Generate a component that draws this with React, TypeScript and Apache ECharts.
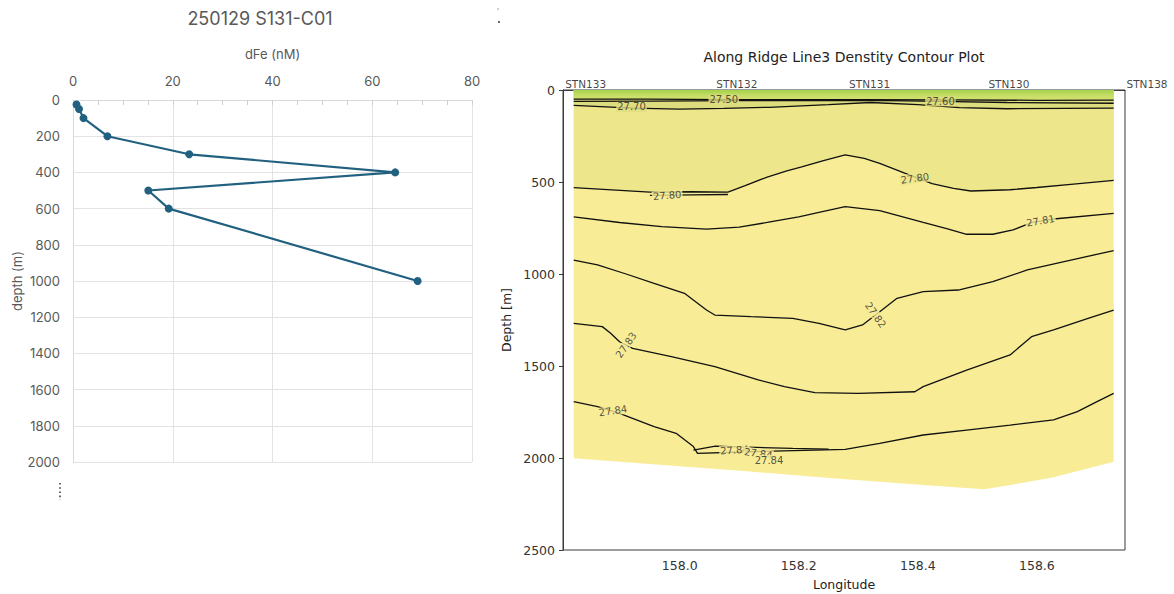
import React, { useEffect, useRef } from "react";
import * as echarts from "echarts";

// ---- Left chart data (dFe profile) ----
const dfeValues = [0.7, 1.2, 2.1, 6.9, 23.3, 64.6, 15.1, 19.2, 69.1];
const dfeDepths = [25, 50, 100, 200, 300, 400, 500, 600, 1000];

// ---- Right chart data (density contours, [longitude, depth]) ----
const lonTicks = [158.0, 158.2, 158.4, 158.6];
const stationNames = ["STN133", "STN132", "STN131", "STN130", "STN138"];
const stationLons = [157.842, 158.096, 158.319, 158.553, 158.785];

const bottomEdge = [
  [157.822, 2002], [157.972, 2038], [158.118, 2074], [158.263, 2111], [158.409, 2147],
  [158.511, 2170], [158.555, 2147], [158.628, 2105], [158.729, 2020],
];
const c2750 = [
  [157.822, 50], [157.95, 50], [158.074, 52], [158.2, 52], [158.3, 53], [158.45, 54], [158.6, 56], [158.729, 55],
];
const c2760 = [
  [157.822, 62], [157.95, 60], [158.1, 58], [158.25, 57], [158.35, 58], [158.438, 62], [158.55, 68], [158.729, 72],
];
const c2770 = [
  [157.822, 84], [157.921, 98], [158.0, 104], [158.074, 100], [158.15, 94], [158.25, 80], [158.32, 68],
  [158.4, 80], [158.47, 96], [158.55, 102], [158.729, 98],
];
const c2780 = [
  [157.822, 531], [157.9, 545], [157.95, 555], [158.02, 553], [158.081, 555], [158.11, 520], [158.147, 473],
  [158.18, 440], [158.205, 418], [158.24, 385], [158.278, 353], [158.31, 372], [158.336, 399], [158.38, 454],
  [158.424, 509], [158.46, 535], [158.489, 549], [158.555, 542], [158.6, 530], [158.657, 513], [158.729, 491],
];
const c2780b = [[157.95, 573], [158.02, 570], [158.081, 568]];
const c2781 = [
  [157.822, 689], [157.899, 720], [157.97, 742], [158.045, 756], [158.1, 745], [158.147, 720], [158.2, 690],
  [158.234, 665], [158.278, 634], [158.336, 656], [158.409, 720], [158.45, 755], [158.482, 784], [158.526, 784],
  [158.56, 760], [158.592, 720], [158.628, 701], [158.729, 670],
];
const c2782 = [
  [157.822, 924], [157.862, 951], [157.91, 1000], [157.957, 1051], [158.008, 1105], [158.045, 1196],
  [158.059, 1223], [158.12, 1232], [158.19, 1241], [158.234, 1268], [158.278, 1304], [158.307, 1277],
  [158.336, 1205], [158.365, 1132], [158.409, 1096], [158.468, 1087], [158.526, 1042], [158.584, 978],
  [158.657, 924], [158.729, 873],
];
const c2783 = [
  [157.822, 1268], [157.87, 1286], [157.884, 1322], [157.899, 1368], [157.921, 1404], [157.986, 1449],
  [158.059, 1504], [158.132, 1576], [158.176, 1612], [158.227, 1645], [158.3, 1649], [158.395, 1640],
  [158.409, 1612], [158.482, 1522], [158.555, 1440], [158.591, 1341], [158.628, 1304], [158.686, 1241],
  [158.729, 1196],
];
const c2784 = [
  [157.822, 1694], [157.862, 1721], [157.899, 1757], [157.957, 1830], [157.994, 1866], [158.023, 1938],
  [158.03, 1975], [158.118, 1966], [158.227, 1957], [158.278, 1953], [158.336, 1920], [158.409, 1875],
  [158.482, 1848], [158.555, 1821], [158.628, 1793], [158.668, 1748], [158.701, 1694], [158.729, 1649],
];
const c2784b = [[158.023, 1957], [158.06, 1935], [158.1, 1940], [158.19, 1948], [158.25, 1952]];

const labelTexts = ["27.50", "27.60", "27.70", "27.80", "27.80", "27.81", "27.82", "27.83", "27.84", "27.84", "27.84", "27.84"];
const labelLons = [158.074, 158.438, 157.919, 158.395, 157.979, 158.606, 158.329, 157.91, 157.888, 158.092, 158.132, 158.15];
const labelDepths = [52, 62, 92, 480, 573, 711, 1223, 1386, 1743, 1957, 1975, 2011];
const labelRotations = [0, 0, 0, 8, 4, 10, -55, 55, 8, 4, -8, 0];

const COL_UPPER = "#eee68b";
const COL_LOWER = "#f8ec96";
const COL_BAND = "#dedd7e";

export default function App() {
  const ref = useRef<HTMLDivElement>(null);

  useEffect(() => {
    if (!ref.current) return;
    const chart = echarts.init(ref.current, undefined, { renderer: "svg" });

    const contourLine = (name: string, data: number[][], extra: any = {}) => ({
      name,
      type: "line",
      xAxisIndex: 1,
      yAxisIndex: 1,
      data,
      symbol: "none",
      smooth: false,
      lineStyle: { color: "#111", width: 1.3 },
      z: 3,
      ...extra,
    });

    const labelBg = (d: number) => (d < 100 ? COL_BAND : d < 500 ? COL_UPPER : COL_LOWER);
    const plain = (v: number) => String(v);

    const option: any = {
      animation: false,
      textStyle: { fontFamily: "DejaVu Sans" },
      graphic: [
        {
          type: "text", x: 260, y: 18,
          style: { text: "250129 S131-C01", fontSize: 18, fontFamily: "Inter", fill: "#595959", textAlign: "center", textVerticalAlign: "middle" },
        },
        {
          type: "text", x: 844, y: 57,
          style: { text: "Along Ridge Line3 Denstity Contour Plot", fontSize: 14, fontFamily: "DejaVu Sans", fill: "#222", textAlign: "center", textVerticalAlign: "middle" },
        },
        {
          type: "line", shape: { x1: 60, y1: 483, x2: 60, y2: 500 },
          style: { stroke: "#666", lineWidth: 2, lineDash: [1.6, 2.6] },
        },
        { type: "circle", shape: { cx: 498, cy: 9, r: 0.9 }, style: { fill: "#bbb" } },
        { type: "circle", shape: { cx: 499, cy: 22, r: 1.1 }, style: { fill: "#555" } },
      ],
      grid: [
        { left: 73, top: 100, width: 399, height: 362, outerBoundsMode: "none" },
        { left: 563, top: 90, width: 562, height: 460, show: true, borderColor: "#3a3a3a", borderWidth: 1, outerBoundsMode: "none" },
      ],
      xAxis: [
        {
          gridIndex: 0, type: "value", position: "top", min: 0, max: 80, interval: 20,
          name: "dFe (nM)", nameLocation: "middle", nameGap: 40,
          nameTextStyle: { color: "#595959", fontSize: 13, fontFamily: "Inter" },
          axisLine: { show: true, lineStyle: { color: "#d9d9d9" } },
          axisTick: { show: true, inside: true, length: 5, lineStyle: { color: "#d0d0d0" } },
          minorTick: { show: true, splitNumber: 4, length: 5, lineStyle: { color: "#d0d0d0" } },
          axisLabel: { color: "#595959", fontSize: 13, fontFamily: "Inter", margin: 13, formatter: plain },
          splitLine: { show: true, lineStyle: { color: "#e3e3e3" } },
        },
        {
          gridIndex: 1, type: "value", min: 157.804, max: 158.748,
          name: "Longitude", nameLocation: "middle", nameGap: 28,
          nameTextStyle: { color: "#222", fontSize: 12.5, fontFamily: "DejaVu Sans" },
          axisLine: { show: true, lineStyle: { color: "#3a3a3a" } },
          axisTick: { show: true, customValues: lonTicks, length: 4, lineStyle: { color: "#3a3a3a" } },
          axisLabel: {
            customValues: lonTicks, color: "#333", fontSize: 12.5, fontFamily: "DejaVu Sans", margin: 9,
            formatter: (v: number) => v.toFixed(1),
          },
          splitLine: { show: false },
        },
      ],
      yAxis: [
        {
          gridIndex: 0, type: "value", inverse: true, min: 0, max: 2000, interval: 200,
          name: "depth (m)", nameLocation: "middle", nameGap: 49,
          nameTextStyle: { color: "#595959", fontSize: 13, fontFamily: "Inter" },
          axisLine: { show: true, lineStyle: { color: "#d9d9d9" } },
          axisTick: { show: false },
          axisLabel: { color: "#595959", fontSize: 13, fontFamily: "Inter", margin: 13, formatter: plain },
          splitLine: { show: true, lineStyle: { color: "#e3e3e3" } },
        },
        {
          gridIndex: 1, type: "value", inverse: true, min: 0, max: 2500, interval: 500,
          name: "Depth [m]", nameLocation: "middle", nameGap: 50,
          nameTextStyle: { color: "#222", fontSize: 12.5, fontFamily: "DejaVu Sans" },
          axisLine: { show: true, lineStyle: { color: "#3a3a3a" } },
          axisTick: { show: true, length: 4, lineStyle: { color: "#3a3a3a" } },
          axisLabel: { color: "#333", fontSize: 12.5, fontFamily: "DejaVu Sans", margin: 8, formatter: plain },
          splitLine: { show: false },
        },
      ],
      series: [
        {
          name: "dFe", type: "line", xAxisIndex: 0, yAxisIndex: 0,
          data: dfeValues.map((v, i) => [v, dfeDepths[i]]),
          symbol: "circle", symbolSize: 8,
          itemStyle: { color: "#21617f" },
          lineStyle: { color: "#21617f", width: 2.2 },
          z: 5,
        },
        contourLine("fill", bottomEdge, {
          lineStyle: { width: 0, opacity: 0 },
          areaStyle: { color: COL_LOWER, origin: "start", opacity: 1 },
          z: 1,
        }),
        contourLine("27.80", c2780, { areaStyle: { color: COL_UPPER, origin: "start", opacity: 1 }, z: 2 }),
        contourLine("27.70", c2770, { areaStyle: { color: COL_BAND, origin: "start", opacity: 1 }, z: 2 }),
        contourLine("27.60", c2760),
        contourLine("27.50", c2750, {
          areaStyle: {
            origin: "start", opacity: 1,
            color: new echarts.graphic.LinearGradient(0, 0, 0, 1, [
              { offset: 0, color: "#a3d24c" },
              { offset: 0.6, color: "#c9df68" },
              { offset: 1, color: "#d6e06f" },
            ]),
          },
          z: 2,
        }),
        contourLine("27.80b", c2780b),
        contourLine("27.81", c2781),
        contourLine("27.82", c2782),
        contourLine("27.83", c2783),
        contourLine("27.84", c2784),
        contourLine("27.84b", c2784b),
        {
          name: "contour labels", type: "scatter", xAxisIndex: 1, yAxisIndex: 1,
          symbolSize: 0, clip: false, z: 6,
          data: labelTexts.map((t, i) => ({
            name: t,
            value: [labelLons[i], labelDepths[i]],
            label: { rotate: labelRotations[i], backgroundColor: labelBg(labelDepths[i]) },
          })),
          label: {
            show: true, position: "inside", formatter: (p: any) => p.name,
            fontSize: 10, fontFamily: "DejaVu Sans", color: "#2a2a2a", padding: [0, 1],
          },
        },
        {
          name: "stations", type: "scatter", xAxisIndex: 1, yAxisIndex: 1,
          symbolSize: 0, clip: false, z: 6,
          data: stationNames.map((n, i) => ({ name: n, value: [stationLons[i], 0] })),
          label: {
            show: true, position: "top", distance: 1, formatter: (p: any) => p.name,
            fontSize: 10.5, fontFamily: "DejaVu Sans", color: "#111",
          },
        },
      ],
    };

    chart.setOption(option);
    return () => chart.dispose();
  }, []);

  return (
    <div
      ref={ref}
      style={{ position: "absolute", left: 0, top: 0, width: 1174, height: 594, background: "#fff" }}
    />
  );
}
